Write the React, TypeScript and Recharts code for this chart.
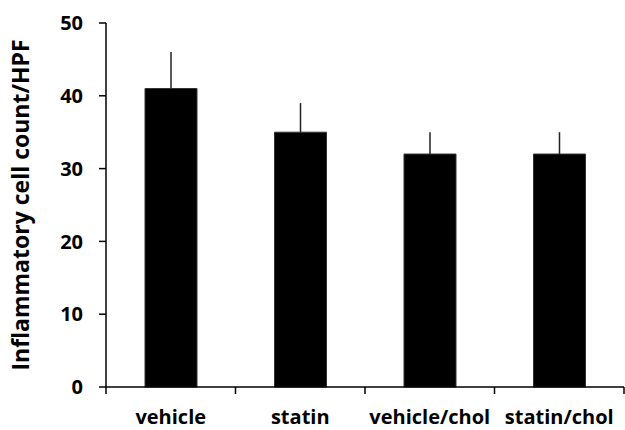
import React from 'react';
import { BarChart, Bar, XAxis, YAxis, ErrorBar } from 'recharts';

const categories = ['vehicle', 'statin', 'vehicle/chol', 'statin/chol'];
const means = [41, 35, 32, 32];
const errors = [5, 4, 3, 3];
const yTicks = [0, 10, 20, 30, 40, 50];

const data = categories.map((c, i) => ({
  pos: i + 0.5,
  name: c,
  value: means[i],
  err: [0, errors[i]],
}));

const xTicks = [0, 0.5, 1, 1.5, 2, 2.5, 3, 3.5, 4];
const FONT = '"Open Sans", "DejaVu Sans", sans-serif';

const XTick = (props: any) => {
  const { x, y, payload } = props;
  const v = payload.value as number;
  if (Number.isInteger(v)) {
    return <line x1={x} x2={x} y1={y} y2={y + 7} stroke="#000" strokeWidth={1.5} />;
  }
  const idx = Math.floor(v);
  return (
    <text x={x} y={y + 37} textAnchor="middle" fontFamily={FONT} fontWeight={700} fontSize={20} fill="#000">
      {categories[idx]}
    </text>
  );
};

export default function App() {
  return (
    <div style={{ position: 'absolute', left: 0, top: 0 }}>
      <BarChart width={625} height={430} data={data} margin={{ top: 23, right: 1, bottom: 0, left: 0 }}>
        <XAxis
          dataKey="pos"
          type="number"
          domain={[0, 4]}
          ticks={xTicks}
          interval={0}
          tickLine={false}
          tickSize={0}
          tickMargin={0}
          tick={<XTick />}
          axisLine={{ stroke: '#000', strokeWidth: 1.5 }}
          height={43}
        />
        <YAxis
          domain={[0, 50]}
          ticks={yTicks}
          width={106}
          tickSize={7}
          tickMargin={16}
          axisLine={{ stroke: '#000', strokeWidth: 1.5 }}
          tickLine={{ stroke: '#000', strokeWidth: 1.5 }}
          tick={{ fill: '#000', fontSize: 20, fontWeight: 700, fontFamily: FONT }}
          label={{
            value: 'Inflammatory cell count/HPF',
            angle: -90,
            position: 'insideLeft',
            offset: 21,
            style: { fill: '#000', fontSize: 23, fontWeight: 700, fontFamily: FONT, textAnchor: 'middle' },
          }}
        />
        <Bar dataKey="value" barSize={52} fill="#000" stroke="#333" strokeWidth={1} isAnimationActive={false}>
          <ErrorBar dataKey="err" direction="y" width={0} stroke="#222" strokeWidth={1.5} />
        </Bar>
      </BarChart>
    </div>
  );
}
